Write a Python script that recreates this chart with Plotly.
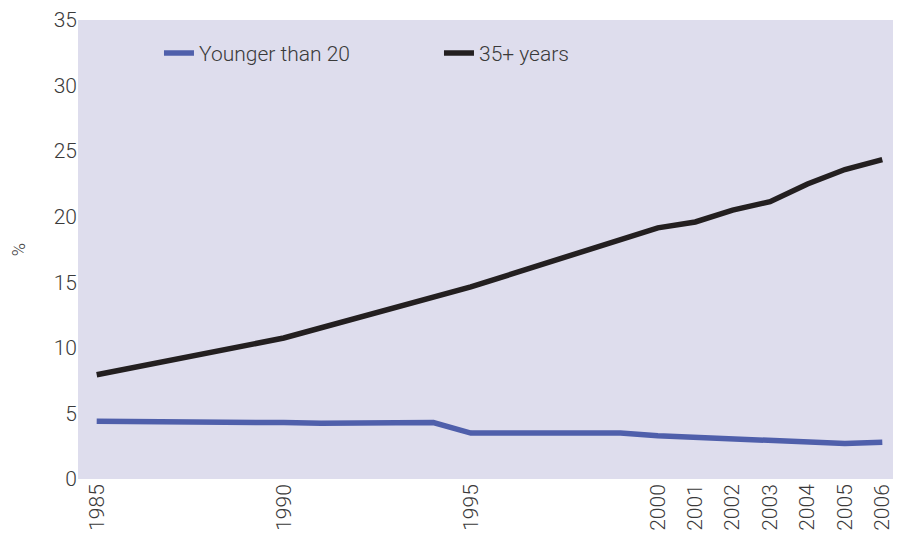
import plotly.graph_objects as go

# Data
years_young = [1985, 1986, 1987, 1988, 1989, 1990, 1991, 1992, 1993, 1994, 1995,
               1996, 1997, 1998, 1999, 2000, 2001, 2002, 2003, 2004, 2005, 2006]
young = [4.4, 4.4, 4.4, 4.4, 4.4, 4.3, 4.25, 4.25, 4.3, 4.3, 3.5,
         3.5, 3.5, 3.5, 3.5, 3.3, 3.2, 3.1, 2.9, 2.8, 2.7, 2.8]

years_old = [1985, 1990, 1995, 2000, 2001, 2002, 2003, 2004, 2005, 2006]
old = [7.95, 10.75, 14.65, 19.15, 19.6, 20.5, 21.15, 22.5, 23.6, 24.35]

tick_years = [1985, 1990, 1995, 2000, 2001, 2002, 2003, 2004, 2005, 2006]
y_ticks = [0, 5, 10, 15, 20, 25, 30, 35]

TEXT = "#3a3a3a"
FONT = "Roboto"

fig = go.Figure()
fig.add_trace(go.Scatter(x=years_young, y=young, mode="lines", name="Younger than 20",
                         line=dict(color="#4f5fab", width=5.5)))
fig.add_trace(go.Scatter(x=years_old, y=old, mode="lines", name="35+ years",
                         line=dict(color="#231f20", width=5.5)))

# page body has an 8px default margin, so the figure is sized/offset to compensate
fig.update_layout(
    width=893, height=530,
    margin=dict(l=70, r=0, t=12, b=59),
    paper_bgcolor="white",
    plot_bgcolor="#dedded",
    font=dict(family=FONT, color=TEXT, size=21, weight=300),
    showlegend=True,
    legend=dict(orientation="h", x=0.0984, y=0.972, xanchor="left", yanchor="top",
                bgcolor="rgba(0,0,0,0)", font=dict(size=21, color=TEXT, weight=300),
                entrywidth=235, entrywidthmode="pixels", itemwidth=30),
    xaxis=dict(range=[1984.5, 2006.5], tickmode="array", tickvals=tick_years,
               ticktext=[str(t) for t in tick_years], tickangle=-90,
               showgrid=False, zeroline=False, showline=False, ticks="",
               automargin=False,
               tickfont=dict(size=21, color=TEXT, weight=300), fixedrange=True),
    yaxis=dict(range=[0, 35], tickmode="array", tickvals=y_ticks,
               showgrid=False, zeroline=False, showline=False, ticks="",
               automargin=False,
               tickfont=dict(size=21, color=TEXT, weight=300),
               title=dict(text="%", font=dict(size=18, color=TEXT, weight=300), standoff=24)),
)

fig.write_html("out.html")
